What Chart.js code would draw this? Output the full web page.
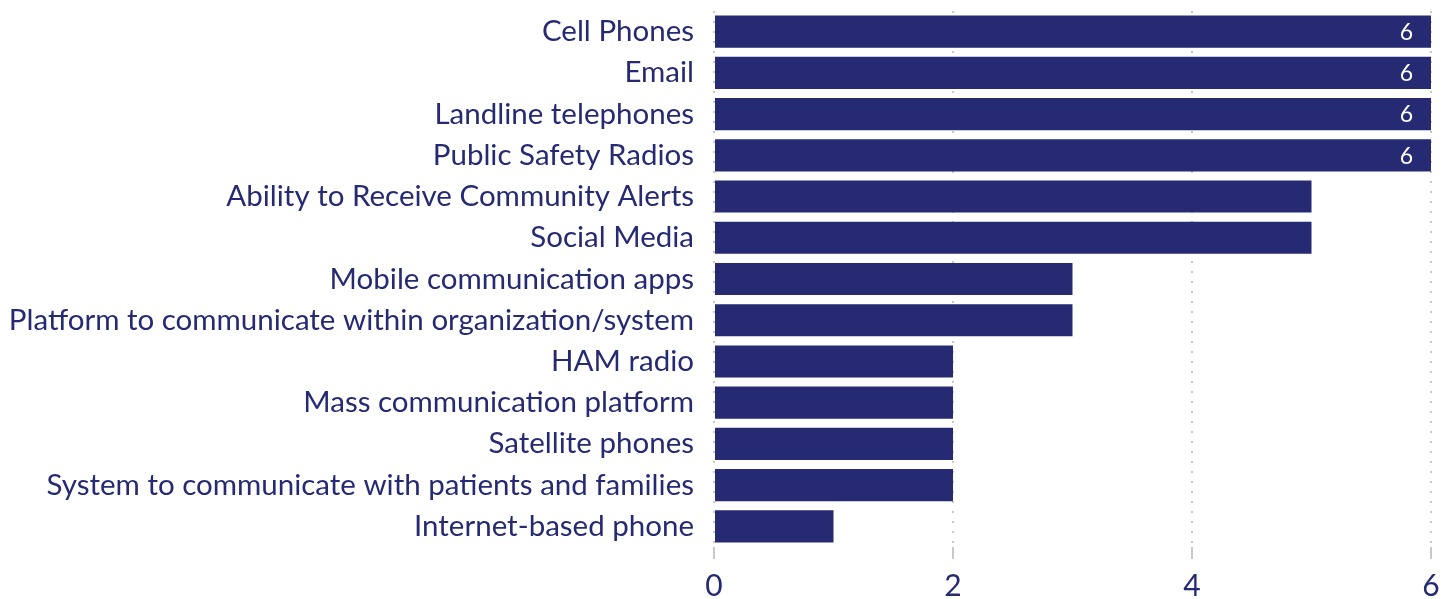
<!DOCTYPE html>
<html>
<head>
<meta charset="utf-8">
<script src="https://cdn.jsdelivr.net/npm/chart.js@4/dist/chart.umd.min.js"></script>
<style>
  html, body { margin: 0; padding: 0; background: #fff; }
  #wrap { width: 1450px; height: 599px; position: relative; }
</style>
</head>
<body>
<div id="wrap"><canvas id="grafico"></canvas></div>
<script>
// ===== DADOS =====
const categorias = [
  'Cell Phones',
  'Email',
  'Landline telephones',
  'Public Safety Radios',
  'Ability to Receive Community Alerts',
  'Social Media',
  'Mobile communication apps',
  'Platform to communicate within organization/system',
  'HAM radio',
  'Mass communication platform',
  'Satellite phones',
  'System to communicate with patients and families',
  'Internet-based phone'
];
const valores = [6, 6, 6, 6, 5, 5, 3, 3, 2, 2, 2, 2, 1];
const ticksX = [0, 2, 4, 6];

const AZUL = '#262a73';
const FONTE = "Lato, 'Open Sans', sans-serif";

// rótulos brancos dentro das barras cheias
const rotulosBarras = {
  id: 'rotulosBarras',
  afterDatasetsDraw(chart) {
    const ctx = chart.ctx;
    const meta = chart.getDatasetMeta(0);
    const max = chart.scales.x.max;
    ctx.save();
    ctx.fillStyle = '#fff';
    ctx.font = "23px " + FONTE;
    ctx.textAlign = 'right';
    ctx.textBaseline = 'middle';
    meta.data.forEach((bar, i) => {
      if (valores[i] !== max) return;
      ctx.fillText(String(valores[i]), bar.x - 18, bar.y + 1);
    });
    ctx.restore();
  }
};

new Chart(document.getElementById('grafico'), {
  type: 'bar',
  data: {
    labels: categorias,
    datasets: [{ data: valores, backgroundColor: AZUL, categoryPercentage: 0.78, barPercentage: 1 }]
  },
  options: {
    indexAxis: 'y',
    responsive: true,
    maintainAspectRatio: false,
    animation: false,
    layout: { padding: { top: 11, right: 19, left: 0, bottom: 0 } },
    plugins: { legend: { display: false }, tooltip: { enabled: false } },
    scales: {
      x: {
        min: 0, max: 6,
        afterBuildTicks: s => { s.ticks = ticksX.map(v => ({ value: v })); },
        grid: { color: '#c8c8c8', lineWidth: 2, tickLength: 12, drawTicks: true },
        border: { display: false, dash: [2, 8] },
        ticks: { color: AZUL, font: { family: FONTE, size: 30 }, padding: 9, maxRotation: 0 },
        afterFit: s => { s.height = 52; s.paddingLeft = 0; s.paddingRight = 0; }
      },
      y: {
        grid: { display: false },
        border: { display: false },
        ticks: { color: AZUL, font: { family: FONTE, size: 29.5 }, padding: 12, autoSkip: false },
        afterFit: s => { s.width = 714; s.paddingTop = 0; s.paddingBottom = 0; }
      }
    }
  },
  plugins: [rotulosBarras]
});
</script>
</body>
</html>
